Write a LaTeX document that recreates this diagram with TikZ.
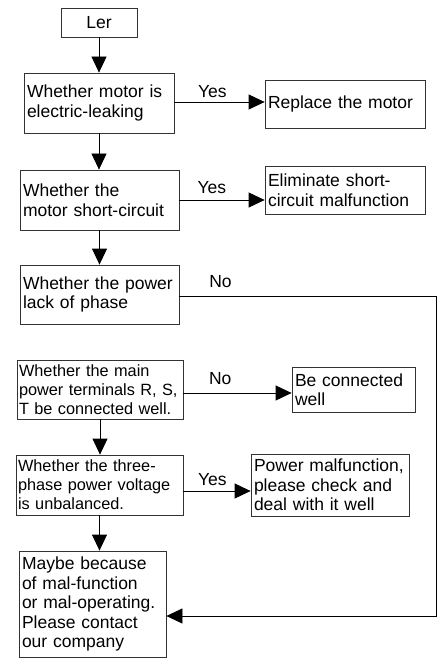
\documentclass[tikz,border=0pt]{standalone}
\usepackage{fontspec}
\setmainfont{Liberation Sans}
\usetikzlibrary{arrows.meta,positioning}

\begin{document}
\begin{tikzpicture}[x=1pt, y=-1pt, ->, >={Triangle[length=16pt, width=15pt]}, line width=0.8pt,
  every node/.style={font=\fontsize{17.5}{19.5}\selectfont},
  box/.style={draw=black!80, rectangle, inner xsep=3pt, inner ysep=0pt, align=left},
  small/.style={font=\fontsize{16.3}{19}\selectfont, inner xsep=2pt}]
\useasboundingbox (0,0) rectangle (441,668);
\node[box, align=center, text width=70pt, minimum height=29pt] (Ler) at (99,22.5) {Ler};
\node[box, text width=144pt, minimum height=60pt] (Leak) at (99,103) {Whether motor is\\electric-leaking};
\node[box, text width=154pt, minimum height=48pt] (Replace) at (345,104) {Replace the motor};
\node[box, text width=153pt, minimum height=60pt] (Short) at (99.5,200) {Whether the\\motor short-circuit};
\node[box, text width=154pt, minimum height=48pt] (Elim) at (345,190) {Eliminate short-\\circuit malfunction};
\node[box, text width=153pt, minimum height=59pt] (Phase) at (99.5,294.5) {Whether the power\\lack of phase};
\node[box, small, text width=162pt, minimum height=59pt] (Term) at (100,389.5) {Whether the main\\power terminals R, S,\\T be connected well.};
\node[box, text width=117pt, minimum height=45pt] (Conn) at (353.5,389.5) {Be connected\\well};
\node[box, small, text width=163pt, minimum height=60pt] (Unbal) at (99.5,485) {Whether the three-\\phase power voltage\\is unbalanced.};
\node[box, text width=152pt, minimum height=62pt] (Power) at (330,485) {Power malfunction,\\please check and\\deal with it well};
\node[box, text width=141pt, minimum height=106pt] (Maybe) at (92.5,604) {Maybe because\\of mal-function\\or mal-operating.\\Please contact\\our company};
\coordinate (corner) at (436,616);
% downward chain
\draw (Ler.south) -- (Ler.south |- Leak.north);
\draw (Leak.south) -- (Leak.south |- Short.north);
\draw (Short.south) -- (Short.south |- Phase.north);
\draw (Term.south) -- (Term.south |- Unbal.north);
\draw (Unbal.south) -- (Unbal.south |- Maybe.north);
% side branches
\draw ([yshift=1pt]Leak.east) -- ([yshift=1pt]Leak.east -| Replace.west) node[pos=0.42, above=1pt] {Yes};
\draw (Short.east) -- (Short.east -| Elim.west) node[pos=0.38, above=3pt] {Yes};
\draw ([yshift=-1.5pt]Phase.east) -| (corner) node[pos=0.08, above=5pt] {No} -- (corner -| Maybe.east);
\draw ([yshift=-3.5pt]Term.east) -- ([yshift=-3.5pt]Term.east -| Conn.west) node[pos=0.34, above=5pt] {No};
\draw ([yshift=-6pt]Unbal.east) -- ([yshift=-6pt]Unbal.east -| Power.west) node[pos=0.43, above=2pt] {Yes};
\end{tikzpicture}
\end{document}
